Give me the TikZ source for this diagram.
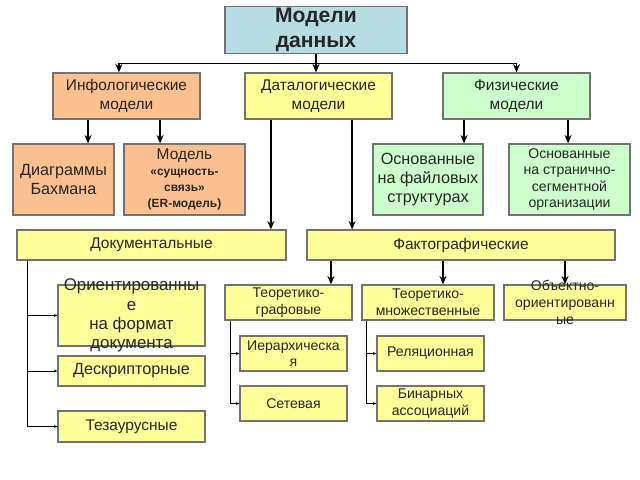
\documentclass[tikz,border=0pt]{standalone}
\usepackage{fontspec}
\setmainfont{Liberation Sans}
\usetikzlibrary{arrows.meta}
\usetikzlibrary{positioning}

\definecolor{topblue}{HTML}{B6DDE1}
\definecolor{infoorange}{HTML}{FAC08F}
\definecolor{datayellow}{HTML}{FFFF99}
\definecolor{physgreen}{HTML}{CCFFCC}

\tikzset{
  box/.style={draw=black!55, line width=0.8pt, align=center, inner sep=1pt, text=black!85},
  arr/.style={line width=1.1pt, -{Stealth[length=6pt,width=5pt]}},
  sarr/.style={line width=0.5pt, -{Stealth[length=2.5pt,width=2pt]}}
}
\newcommand{\fs}[2]{\fontsize{#1}{#2}\selectfont}

\begin{document}
\begin{tikzpicture}[x=0.025cm, y=-0.025cm]
    \useasboundingbox (0,0) rectangle (640,480);

    % top level
    \node[box, fill=topblue, minimum width=4.55cm, minimum height=1.15cm, font=\fs{15}{17.5}\bfseries] (top) at (316,30)
        {Модели\\данных};

    \node[box, fill=infoorange, minimum width=3.675cm, minimum height=1.15cm, font=\fs{11}{13.5}] (infolog) at (126.5,96)
        {Инфологические\\модели};
    \node[box, fill=datayellow, minimum width=3.675cm, minimum height=1.15cm, font=\fs{11}{13.5}] (datalog) at (318.5,96)
        {Даталогические\\модели};
    \node[box, fill=physgreen, minimum width=3.675cm, minimum height=1.15cm, font=\fs{11}{13.5}] (physical) at (516.5,96)
        {Физические\\модели};

    % second row
    \node[box, fill=infoorange, minimum width=2.525cm, minimum height=1.775cm, font=\fs{11.5}{13}] (bachman) at (63.5,179.5)
        {Диаграммы\\Бахмана};
    \node[box, fill=infoorange, minimum width=3.025cm, minimum height=1.775cm, font=\fs{11}{11.5}] (ermodel) at (184.5,179.5)
        {Модель\\\fs{8.5}{11}\bfseries «сущность-\\\fs{8.5}{10.5}\bfseries связь»\\\fs{8.5}{10}\bfseries(ER-модель)};
    \node[box, fill=physgreen, minimum width=2.75cm, minimum height=1.775cm, font=\fs{11.5}{13.3}] (filebased) at (428,179.5)
        {Основанные\\на файловых\\структурах};
    \node[box, fill=physgreen, minimum width=3.025cm, minimum height=1.775cm, font=\fs{10}{11.7}] (pageseg) at (569.5,179.5)
        {Основанные\\на странично-\\сегментной\\организации};

    % documental / factographic
    \node[box, fill=datayellow, minimum width=6.725cm, minimum height=0.75cm, font=\fs{11}{13}] (docum) at (151.5,245)
        {Документальные};
    \node[box, fill=datayellow, minimum width=7.7cm, minimum height=0.75cm, font=\fs{11}{13}] (fact) at (461,245)
        {Фактографические};

    % documental kinds
    \node[box, fill=datayellow, minimum width=3.675cm, minimum height=1.525cm] (orient) at (131.5,315.5) {};
    \node[align=center, inner sep=0pt, text=black!85, font=\fs{12}{13.7}] (orienttext) at (orient.center)
        {Ориентированны\\е\\на формат\\документа};
    \node[box, fill=datayellow, minimum width=3.675cm, minimum height=0.75cm, font=\fs{11.5}{13}] (descr) at (131.5,371)
        {Дескрипторные};
    \node[box, fill=datayellow, minimum width=3.675cm, minimum height=0.775cm, font=\fs{11}{13}] (thes) at (131.5,426.5)
        {Тезаурусные};

    % factographic kinds
    \node[box, fill=datayellow, minimum width=3.175cm, minimum height=0.875cm, font=\fs{10}{12}] (tgraph) at (288.5,302.5)
        {Теоретико-\\графовые};
    \node[box, fill=datayellow, minimum width=3.3cm, minimum height=0.875cm, font=\fs{10}{12}] (tset) at (428,302.5)
        {Теоретико-\\множественные};
    \node[box, fill=datayellow, minimum width=3.05cm, minimum height=0.875cm] (objor) at (565,302.5) {};
    \node[align=center, inner sep=0pt, text=black!85, font=\fs{10}{12}] (objortext) at (objor.center)
        {Объектно-\\ориентированн\\ые};

    \node[box, fill=datayellow, minimum width=2.675cm, minimum height=0.875cm, font=\fs{10}{11.5}] (hier) at (293.5,353.5)
        {Иерархическа\\я};
    \node[box, fill=datayellow, minimum width=2.675cm, minimum height=0.875cm, font=\fs{10}{12}] (network) at (293.5,403.5)
        {Сетевая};
    \node[box, fill=datayellow, minimum width=2.675cm, minimum height=0.875cm, font=\fs{10}{12}] (relat) at (430.5,353.5)
        {Реляционная};
    \node[box, fill=datayellow, minimum width=2.675cm, minimum height=0.875cm, font=\fs{10}{12}] (binary) at (430.5,403.5)
        {Бинарных\\ассоциаций};

    % main arrows
    \coordinate (hub) at ([yshift=-0.25cm]top.south);
    \draw[line width=1.1pt] (top.south) -- (hub);
    \draw[arr] (hub) -| ([xshift=-0.19cm]infolog.north);
    \draw[arr] (hub) -- (hub |- datalog.north);
    \draw[arr] (hub) -| (physical.north);

    \draw[arr] ([xshift=-0.96cm]infolog.south) -- ([xshift=-0.96cm]infolog.south |- bachman.north);
    \draw[arr] ([xshift=0.84cm]infolog.south) -- ([xshift=0.84cm]infolog.south |- ermodel.north);
    \draw[arr] ([xshift=-1.31cm]physical.south) -- ([xshift=-1.31cm]physical.south |- filebased.north);
    \draw[arr] ([xshift=1.29cm]physical.south) -- ([xshift=1.29cm]physical.south |- pageseg.north);

    \draw[arr] ([xshift=-1.19cm]datalog.south) -- ([xshift=-1.19cm]datalog.south |- docum.north);
    \draw[arr] ([xshift=0.84cm]datalog.south) -- ([xshift=0.84cm]datalog.south |- fact.north);

    \draw[arr] ([xshift=-3.25cm]fact.south) -- ([xshift=-3.25cm]fact.south |- tgraph.north);
    \draw[arr] ([xshift=-0.45cm]fact.south) -- ([xshift=-0.45cm]fact.south |- tset.north);
    \draw[arr] ([xshift=2.6cm]fact.south) -- ([xshift=2.6cm]fact.south |- objor.north);

    % small branches
    \coordinate (dline) at ([xshift=0.28cm]docum.south west);
    \draw[sarr] (dline) |- (orient.west);
    \draw[sarr] (dline) |- (descr.west);
    \draw[sarr] (dline) |- (thes.west);

    \coordinate (gline) at ([xshift=0.15cm]tgraph.south west);
    \draw[sarr] (gline) |- (hier.west);
    \draw[sarr] (gline) |- (network.west);

    \coordinate (sline) at ([xshift=0.13cm]tset.south west);
    \draw[sarr] (sline) |- (relat.west);
    \draw[sarr] (sline) |- (binary.west);
\end{tikzpicture}
\end{document}
